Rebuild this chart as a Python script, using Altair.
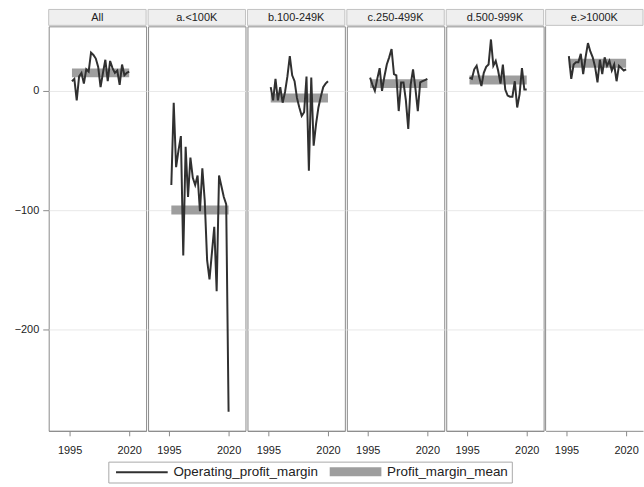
import altair as alt
import pandas as pd

FONT = "Liberation Sans"

groups = ["All", "a.<100K", "b.100-249K", "c.250-499K", "d.500-999K", "e.>1000K"]
years = list(range(1996, 2021))

margin_all = [8, 10, -8, 12, 15, 6, 18, 16, 32, 30, 27, 20, 3, 15, 26, 8, 25, 19, 15, 17, 5, 22, 13, 15, 16]
margin_a = [-79, -10, -64, -50, -38, -138, -47, -89, -56, -73, -79, -71, -101, -65, -92, -142, -158, -136, -114, -168, -71, -80, -89, -95, -269]
margin_b = [3, -8, 10, -8, 3, -10, -1, 12, 29, 13, 8, -6, -14, -21, -18, 12, -67, 11, -46, -28, -14, -5, 3, 6, 8]
margin_c = [11, 5, 0, 10, 19, 0, 12, 22, 28, 35, 14, 13, -17, 7, 7, -8, -32, 5, 18, 2, -17, 7, 8, 9, 10]
margin_d = [11, 10, 18, 21, 12, 4, 15, 20, 22, 43, 21, 25, 17, 6, 22, 1, -4, -5, -5, 8, -14, -3, 19, 1, 1]
margin_e = [29, 10, 22, 24, 24, 31, 14, 28, 40, 33, 28, 20, 7, 26, 14, 28, 21, 25, 17, 22, 8, 21, 19, 17, 18]

mean_margin = [15, -100, -6, 6, 9, 23]

series_names = ["Operating_profit_margin", "Profit_margin_mean"]
LINE_WIDTH = 2
BAR_WIDTH = 9

all_series = [margin_all, margin_a, margin_b, margin_c, margin_d, margin_e]
rows = []
for g, vals in zip(groups, all_series):
    for yr, v in zip(years, vals):
        rows.append({"group": g, "year": yr, "margin": v, "series": series_names[0]})
lines_df = pd.DataFrame(rows)

mean_df = pd.DataFrame({
    "group": groups,
    "start": [years[0]] * len(groups),
    "end": [years[-1]] * len(groups),
    "mean": mean_margin,
    "series": [series_names[1]] * len(groups),
})

# panel sizes in pixels; the last panel runs to the page edge
panel_widths = [98, 98, 98, 98, 98, 98]
H = 407
PX_PER_YEAR = 2.4
X_START = 1986.25
BORDER = "#8a8a8a"

y_scale = alt.Scale(domain=[-285, 54], nice=False, zero=False)
color_scale = alt.Scale(domain=series_names, range=["#303030", "#9e9e9e"])

# long flat legend swatches: a single stroke for the line, stacked strokes for the thick bar
thin_swatch = "M-1,0H25"
thick_swatch = "M-1,-1.75H25M-1,-0.875H25M-1,0H25M-1,0.875H25M-1,1.75H25"
swatch_shape = alt.ExprRef(
    expr=f"datum.value === '{series_names[1]}' ? '{thick_swatch}' : '{thin_swatch}'"
)
legend = alt.Legend(
    title=None, orient="none", legendX=60, legendY=438, direction="horizontal",
    symbolType=swatch_shape, symbolSize=16, symbolStrokeWidth=LINE_WIDTH,
    labelFontSize=13.5, labelFont=FONT,
    labelColor="#222222", labelOffset=49, columnPadding=6, padding=3,
    strokeColor="#a8a8a8", fillColor="#ffffff", symbolFillColor="transparent",
)


def panel(i, g, w):
    first = i == 0
    last = i == len(groups) - 1
    x_scale = alt.Scale(domain=[X_START, X_START + w / PX_PER_YEAR], nice=False, zero=False)
    x_axis = alt.Axis(values=[1995, 2020], format="d", title=None, grid=False,
                      labelFontSize=11, labelColor="#222222", tickColor=BORDER,
                      tickSize=5, domainColor=BORDER, labelPadding=9)
    y_axis = alt.Axis(values=[0, -100, -200], title=None, grid=True, gridColor="#e8e8e8",
                      labels=first, ticks=first, domain=False, labelFontSize=11,
                      labelColor="#222222", tickColor=BORDER, tickSize=6, labelPadding=4)

    mean_bar = alt.Chart(mean_df).transform_filter(alt.datum.group == g).mark_rule(
        strokeCap="butt", strokeWidth=BAR_WIDTH
    ).encode(
        x=alt.X("start:Q", scale=x_scale, axis=x_axis),
        x2="end:Q",
        y=alt.Y("mean:Q", scale=y_scale, axis=y_axis),
        color=alt.Color("series:N", scale=color_scale, legend=legend),
    )

    line = alt.Chart(lines_df).transform_filter(alt.datum.group == g).mark_line(
        strokeJoin="miter", strokeWidth=LINE_WIDTH
    ).encode(
        x=alt.X("year:Q", scale=x_scale, axis=x_axis),
        y=alt.Y("margin:Q", scale=y_scale, axis=y_axis),
        color=alt.Color("series:N", scale=color_scale, legend=legend),
    )

    head_df = pd.DataFrame({"group": [g]})
    head_box = alt.Chart(head_df).mark_rect(fill="#efefef", stroke="#c2c2c2", strokeWidth=1).encode(
        x=alt.value(0), x2=alt.value(w), y=alt.value(-17), y2=alt.value(-1)
    )
    head_text = alt.Chart(head_df).mark_text(fontSize=11, font=FONT, color="#222222").encode(
        x=alt.value(w / 2), y=alt.value(-8.5), text="group:N"
    )

    layers = [mean_bar, line, head_box, head_text]
    if last:
        # open-ended last panel: only its left edge is framed
        layers.append(
            alt.Chart(head_df).mark_rule(color=BORDER, strokeWidth=1).encode(
                x=alt.value(0), y=alt.value(0), y2=alt.value(H)
            )
        )
        return alt.layer(*layers).properties(
            width=w, height=H, view=alt.ViewBackground(stroke="transparent", strokeWidth=0)
        )
    return alt.layer(*layers).properties(width=w, height=H)


chart = alt.hconcat(
    *[panel(i, g, w) for i, (g, w) in enumerate(zip(groups, panel_widths))], spacing=0
).properties(
    padding={"left": 13, "top": 7, "right": 0, "bottom": 0}
).configure(font=FONT).configure_view(stroke=BORDER, strokeWidth=1)

chart.save("out.html", embed_options={"renderer": "svg", "actions": False})
